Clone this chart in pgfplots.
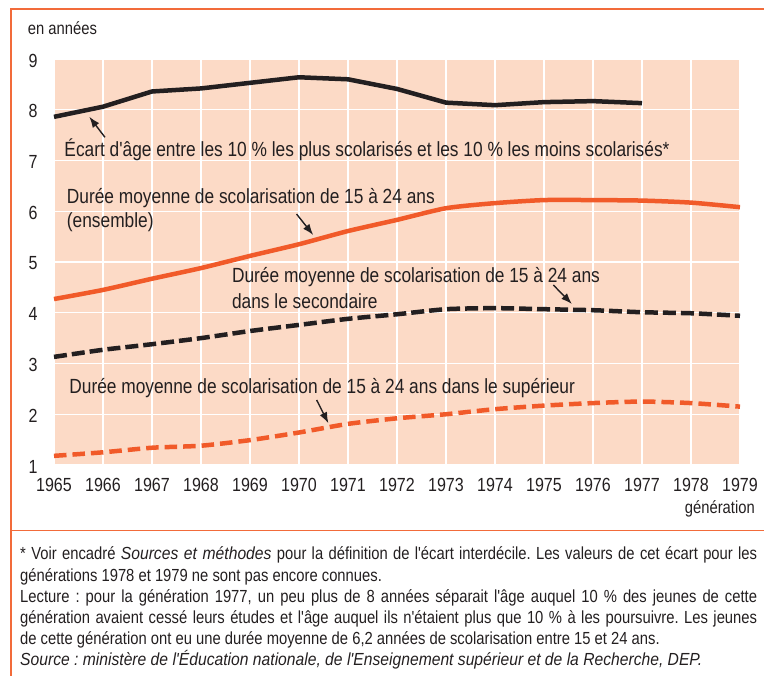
\documentclass[border=0pt]{standalone}
\usepackage{fontspec}
\setmainfont{Liberation Sans}[FakeStretch=0.845, Ligatures=TeXOff, ItalicFeatures={FakeStretch=0.895}]
\usepackage{pgfplots}
\pgfplotsset{compat=1.18}
\usetikzlibrary{arrows.meta}
\definecolor{peach}{RGB}{252,218,198}
\definecolor{orng}{RGB}{241,90,41}
\definecolor{blk}{RGB}{35,31,32}
\definecolor{framec}{RGB}{242,107,58}
\newcommand\annot{\fontsize{20.5}{24}\selectfont}
\newcommand\smalltxt{\fontsize{17.5}{21}\selectfont}
\frenchspacing
\begin{document}
\begin{tikzpicture}
\useasboundingbox (-54pt,-211pt) rectangle (710pt,465pt);
\begin{axis}[
  at={(0pt,0pt)}, anchor=south west,
  scale only axis, width=686pt, height=406pt,
  xmin=1965, xmax=1979, ymin=1, ymax=9,
  xtick={1965,1966,...,1979}, ytick={1,2,...,9},
  axis background/.style={fill=peach},
  grid=major, major grid style={white, line width=1.2pt},
  axis line style={draw=none},
  major tick length=0pt,
  /pgf/number format/assume math mode=true,
  /pgf/number format/1000 sep={},
  tick label style={font=\fontsize{19}{22}\selectfont, text=blk},
  xticklabel style={yshift=-10pt},
  yticklabel style={xshift=-13pt, yshift=-1.5pt},
  clip=false,
]
\addplot[blk, line width=4.5pt, line join=round] coordinates {
(1965,7.86)(1966,8.06)(1967,8.36)(1968,8.42)(1969,8.53)(1970,8.64)(1971,8.60)(1972,8.41)(1973,8.14)(1974,8.09)(1975,8.15)(1976,8.17)(1977,8.13)};
\addplot[orng, line width=4.5pt, smooth, tension=0.4] coordinates {
(1965,4.27)(1966,4.45)(1967,4.67)(1968,4.88)(1969,5.12)(1970,5.35)(1971,5.61)(1972,5.83)(1973,6.06)(1974,6.16)(1975,6.22)(1976,6.22)(1977,6.21)(1978,6.17)(1979,6.08)};
\addplot[blk, line width=4.5pt, smooth, tension=0.4, dash pattern=on 13pt off 5pt] coordinates {
(1965,3.13)(1966,3.27)(1967,3.38)(1968,3.50)(1969,3.64)(1970,3.76)(1971,3.88)(1972,3.97)(1973,4.07)(1974,4.09)(1975,4.07)(1976,4.05)(1977,4.01)(1978,3.99)(1979,3.94)};
\addplot[orng, line width=4.5pt, smooth, tension=0.4, dash pattern=on 12.5pt off 6pt] coordinates {
(1965,1.18)(1966,1.25)(1967,1.34)(1968,1.38)(1969,1.49)(1970,1.64)(1971,1.81)(1972,1.92)(1973,2.00)(1974,2.10)(1975,2.17)(1976,2.22)(1977,2.25)(1978,2.22)(1979,2.15)};
% annotations
\node[anchor=base west, inner sep=0pt, text=blk, font=\annot] at (axis cs:1965.21,7.075) {Écart d'âge entre les 10 \% les plus scolarisés et les 10 \% les moins scolarisés*};
\node[anchor=base west, inner sep=0pt, text=blk, font=\annot] at (axis cs:1965.26,6.157) {Durée moyenne de scolarisation de 15 à 24 ans};
\node[anchor=base west, inner sep=0pt, text=blk, font=\annot] at (axis cs:1965.26,5.67) {(ensemble)};
\node[anchor=base west, inner sep=0pt, text=blk, font=\annot] at (axis cs:1968.63,4.596) {Durée moyenne de scolarisation de 15 à 24 ans};
\node[anchor=base west, inner sep=0pt, text=blk, font=\annot] at (axis cs:1968.63,4.084) {dans le secondaire};
\node[anchor=base west, inner sep=0pt, text=blk, font=\annot] at (axis cs:1965.31,2.399) {Durée moyenne de scolarisation de 15 à 24 ans dans le supérieur};
% arrows
\draw[blk, line width=1.4pt, -{Latex[length=11pt,width=8pt]}] (axis cs:1966.04,7.457) -- (axis cs:1965.72,7.863);
\draw[blk, line width=1.4pt, -{Latex[length=11pt,width=8pt]}] (axis cs:1969.95,5.946) -- (axis cs:1970.29,5.532);
\draw[blk, line width=1.4pt, -{Latex[length=11pt,width=8pt]}] (axis cs:1975.19,4.547) -- (axis cs:1975.57,4.172);
\draw[blk, line width=1.4pt, -{Latex[length=11pt,width=8pt]}] (axis cs:1970.36,2.281) -- (axis cs:1970.60,1.822);
\end{axis}
% frame
\draw[framec, line width=1.5pt] (-43pt,-215pt) -- (-43pt,456pt) -- (715pt,456pt);
\draw[framec, line width=1.5pt] (-43pt,-65.7pt) -- (715pt,-65.7pt);
% axis texts
\node[anchor=base west, inner sep=0pt, text=blk, font=\smalltxt] at (-26.3pt,430.7pt) {en années};
\node[anchor=base east, inner sep=0pt, text=blk, font=\smalltxt] at (701pt,-49pt) {génération};
% footnotes
\begin{scope}[every node/.style={anchor=base west, inner sep=0pt, text=blk, font=\smalltxt}]
\node at (-34pt,-95pt) {\makebox[737pt][s]{* Voir encadré \textit{Sources et méthodes} pour la définition de l'écart interdécile. Les valeurs de cet écart pour les}};
\node at (-34pt,-116.2pt) {générations 1978 et 1979 ne sont pas encore connues.};
\node at (-34pt,-137.4pt) {\makebox[737pt][s]{Lecture : pour la génération 1977, un peu plus de 8 années séparait l'âge auquel 10 \% des jeunes de cette}};
\node at (-34pt,-158.6pt) {\makebox[737pt][s]{génération avaient cessé leurs études et l'âge auquel ils n'étaient plus que 10 \% à les poursuivre. Les jeunes}};
\node at (-34pt,-179.8pt) {de cette génération ont eu une durée moyenne de 6,2 années de scolarisation entre 15 et 24 ans.};
\node at (-34pt,-201pt) {\textit{Source : ministère de l'Éducation nationale, de l'Enseignement supérieur et de la Recherche, DEP.}};
\end{scope}
\end{tikzpicture}
\end{document}
